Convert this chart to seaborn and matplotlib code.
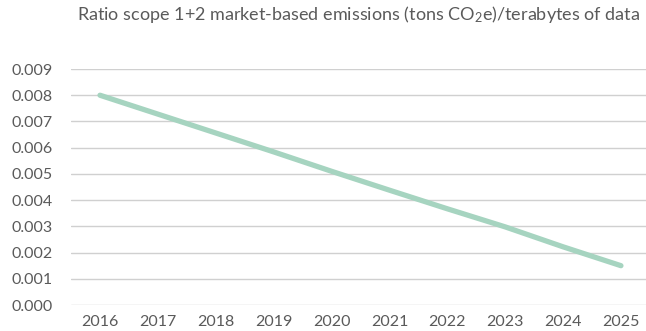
import matplotlib
matplotlib.use("Agg")
import matplotlib.pyplot as plt
import seaborn as sns
import pandas as pd

years = ["2016", "2017", "2018", "2019", "2020", "2021", "2022", "2023", "2024", "2025"]
ratio = [0.0080, 0.00728, 0.00656, 0.00584, 0.00510, 0.00438, 0.00367, 0.00298, 0.00222, 0.00150]
y_ticks = [0.000, 0.001, 0.002, 0.003, 0.004, 0.005, 0.006, 0.007, 0.008, 0.009]
title = "Ratio scope 1+2 market-based emissions (tons CO$_2$e)/terabytes of data"

sns.set_theme(style="white")
plt.rcParams["font.family"] = ["Lato", "DejaVu Sans"]
plt.rcParams["mathtext.fontset"] = "custom"
plt.rcParams["mathtext.rm"] = "Lato"
plt.rcParams["mathtext.it"] = "Lato"

df = pd.DataFrame({"year": years, "ratio": ratio})

fig = plt.figure(figsize=(6.46, 3.31), dpi=100)
ax = fig.add_axes([0.110, 0.0785, 0.896, 0.713])

sns.lineplot(data=df, x="year", y="ratio", ax=ax, color="#a6d4c0",
             linewidth=3.8, solid_capstyle="round", sort=False)

ax.set_xlim(-0.5, len(years) - 0.5)
ax.set_ylim(0, 0.009)
ax.set_yticks(y_ticks)
ax.set_yticklabels([f"{v:.3f}" for v in y_ticks])
ax.yaxis.grid(True, color="#d0d0d0", linewidth=1.0)
ax.set_axisbelow(True)
for s in ax.spines.values():
    s.set_visible(False)
ax.tick_params(axis="both", length=0, labelsize=11.5, labelcolor="#5a5a5a")
ax.tick_params(axis="y", pad=13)
ax.tick_params(axis="x", pad=7)
ax.set_xlabel("")
ax.set_ylabel("")

fig.text(0.119, 0.955, title, fontsize=13, color="#5a5a5a", va="center", ha="left")

fig.savefig("out.png", dpi=100)
